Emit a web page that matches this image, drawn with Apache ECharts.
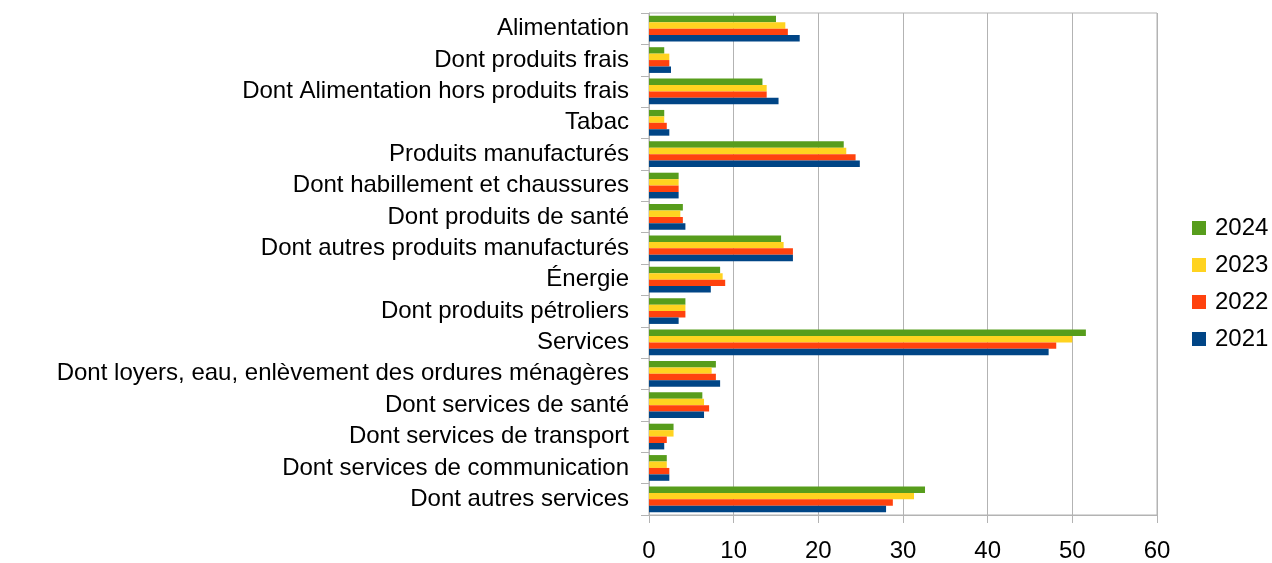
<!DOCTYPE html>
<html>
<head>
<meta charset="utf-8">
<script src="https://cdn.jsdelivr.net/npm/echarts@6/dist/echarts.min.js"></script>
<style>
  html, body { margin: 0; padding: 0; background: #fff; }
  #chart { width: 1272px; height: 563px; }
</style>
</head>
<body>
<div id="chart"></div>
<script>
var categories = [
    'Alimentation',
    'Dont produits frais',
    'Dont Alimentation hors produits frais',
    'Tabac',
    'Produits manufacturés',
    'Dont habillement et chaussures',
    'Dont produits de santé',
    'Dont autres produits manufacturés',
    'Énergie',
    'Dont produits pétroliers',
    'Services',
    'Dont loyers, eau, enlèvement des ordures ménagères',
    'Dont services de santé',
    'Dont services de transport',
    'Dont services de communication',
    'Dont autres services'
];
var v2024 = [15.0, 1.8, 13.4, 1.8, 23.0, 3.5, 4.0, 15.6, 8.4, 4.3, 51.6, 7.9, 6.3, 2.9, 2.1, 32.6];
var v2023 = [16.1, 2.4, 13.9, 1.8, 23.3, 3.5, 3.7, 15.9, 8.7, 4.3, 50.0, 7.4, 6.5, 2.9, 2.1, 31.3];
var v2022 = [16.4, 2.4, 13.9, 2.1, 24.4, 3.5, 4.0, 17.0, 9.0, 4.3, 48.1, 7.9, 7.1, 2.1, 2.4, 28.8];
var v2021 = [17.8, 2.6, 15.3, 2.4, 24.9, 3.5, 4.3, 17.0, 7.3, 3.5, 47.2, 8.4, 6.5, 1.8, 2.4, 28.0];
var xTicks = [0, 10, 20, 30, 40, 50, 60];

var chart = echarts.init(document.getElementById('chart'));
var option = {
    animation: false,
    textStyle: { fontFamily: 'Liberation Sans', color: '#000' },
    legend: {
        orient: 'vertical',
        left: 1187,
        top: 211,
        itemWidth: 14,
        itemHeight: 14,
        itemGap: 13,
        data: ['2024', '2023', '2022', '2021'],
        textStyle: { fontSize: 24, color: '#000', fontFamily: 'Liberation Sans', padding: [0, 0, 0, 4] },
        icon: 'rect'
    },
    grid: {
        left: 649,
        right: 115,
        top: 13,
        bottom: 47,
        show: true,
        borderColor: '#b3b3b3',
        borderWidth: 1
    },
    xAxis: {
        type: 'value',
        min: xTicks[0],
        max: xTicks[xTicks.length - 1],
        interval: 10,
        axisLine: { show: true, lineStyle: { color: '#b3b3b3' } },
        axisTick: { show: true, length: 8, lineStyle: { color: '#b3b3b3' } },
        axisLabel: { fontSize: 24, color: '#000', margin: 24 },
        splitLine: { show: true, lineStyle: { color: '#b3b3b3', width: 1 } }
    },
    yAxis: {
        type: 'category',
        inverse: true,
        data: categories,
        axisLine: { show: true, lineStyle: { color: '#b3b3b3' } },
        axisTick: { show: true, length: 8, lineStyle: { color: '#b3b3b3' } },
        axisLabel: { fontSize: 24, color: '#000', margin: 20 },
        splitLine: { show: false }
    },
    series: [
        { name: '2024', type: 'bar', data: v2024, itemStyle: { color: '#579d1c' }, barGap: '0%', barCategoryGap: '18%' },
        { name: '2023', type: 'bar', data: v2023, itemStyle: { color: '#ffd320' } },
        { name: '2022', type: 'bar', data: v2022, itemStyle: { color: '#ff420e' } },
        { name: '2021', type: 'bar', data: v2021, itemStyle: { color: '#004586' } }
    ]
};
chart.setOption(option);
window.addEventListener('resize', function () {
    chart.resize();
});
</script>
</body>
</html>
